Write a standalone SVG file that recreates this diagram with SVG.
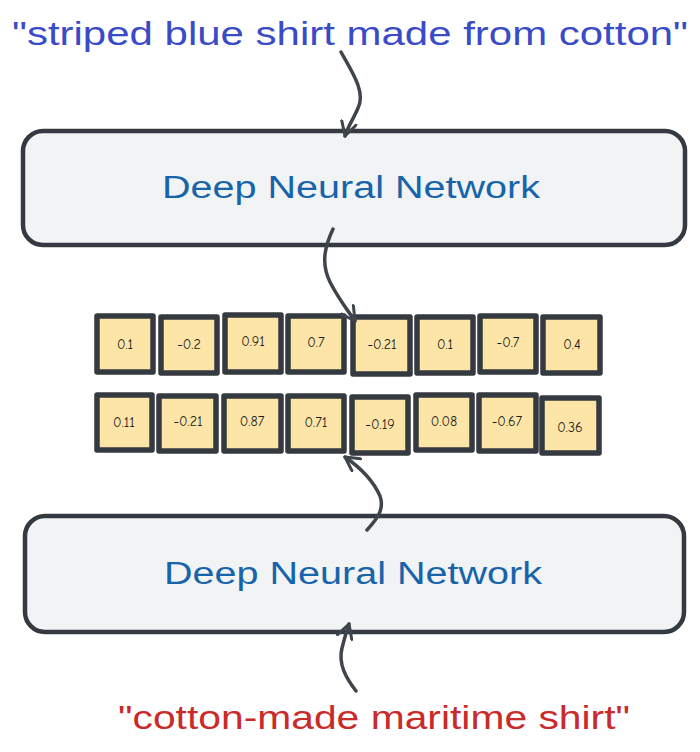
<svg xmlns="http://www.w3.org/2000/svg" width="700" height="752" viewBox="0 0 700 752">
<defs>
<style>
.box{fill:#f1f3f5;stroke:#343a40;stroke-width:4.5}
.cell{fill:#fde5a8;stroke:#343a40;stroke-width:5.5;stroke-linejoin:round}
.num{font-family:"Comic Neue","Liberation Sans",sans-serif;font-size:14px;fill:#1e1e1e;text-anchor:middle}
.dnn{font-family:"Liberation Sans",sans-serif;font-size:31px;fill:#1864ab;text-anchor:middle}
.quote{font-family:"Liberation Sans",sans-serif;font-size:33px}
.conn{fill:none;stroke:#3f454b;stroke-width:3.5;stroke-linecap:round;stroke-linejoin:round}
</style>
<marker id="ah" viewBox="0 0 14 14" refX="12" refY="7" markerWidth="5" markerHeight="5" orient="auto" markerUnits="strokeWidth">
<path d="M1,1 L12,7 L1,13" fill="none" stroke="#3f454b" stroke-width="2.4" stroke-linecap="round" stroke-linejoin="round"/>
</marker>
</defs>
<rect width="700" height="752" fill="#ffffff"/>

<g id="query-top">
<text class="quote" x="12" y="45" fill="#3a4bc8" textLength="676" lengthAdjust="spacingAndGlyphs">"striped blue shirt made from cotton"</text>
</g>

<g id="dnn-top">
<rect class="box" x="23" y="131" width="662" height="114" rx="20"/>
<text class="dnn" x="351" y="198" textLength="378" lengthAdjust="spacingAndGlyphs">Deep Neural Network</text>
</g>

<g id="vector-1">
<rect class="cell" x="97" y="316" width="56" height="56"/>
<text class="num" x="125" y="349">0.1</text>
<rect class="cell" x="161" y="317" width="56" height="56"/>
<text class="num" x="189" y="349">-0.2</text>
<rect class="cell" x="225" y="315" width="56" height="57"/>
<text class="num" x="253" y="346">0.91</text>
<rect class="cell" x="288" y="316" width="56" height="56"/>
<text class="num" x="316" y="347">0.7</text>
<rect class="cell" x="353" y="317" width="57" height="57"/>
<text class="num" x="382" y="349">-0.21</text>
<rect class="cell" x="417" y="317" width="56" height="56"/>
<text class="num" x="445" y="349">0.1</text>
<rect class="cell" x="480" y="316" width="56" height="56"/>
<text class="num" x="508" y="347">-0.7</text>
<rect class="cell" x="543" y="317" width="57" height="56"/>
<text class="num" x="572" y="349">0.4</text>
</g>

<g id="vector-2">
<rect class="cell" x="97" y="395" width="55" height="55"/>
<text class="num" x="124" y="427">0.11</text>
<rect class="cell" x="159" y="396" width="57" height="55"/>
<text class="num" x="188" y="426">-0.21</text>
<rect class="cell" x="224" y="396" width="57" height="55"/>
<text class="num" x="252" y="426">0.87</text>
<rect class="cell" x="288" y="396" width="56" height="55"/>
<text class="num" x="316" y="427">0.71</text>
<rect class="cell" x="352" y="397" width="56" height="56"/>
<text class="num" x="380" y="429">-0.19</text>
<rect class="cell" x="416" y="395" width="56" height="55"/>
<text class="num" x="444" y="426">0.08</text>
<rect class="cell" x="479" y="395" width="57" height="56"/>
<text class="num" x="507" y="426">-0.67</text>
<rect class="cell" x="542" y="398" width="57" height="55"/>
<text class="num" x="570" y="432">0.36</text>
</g>

<g id="dnn-bottom">
<rect class="box" x="25" y="516" width="659" height="116" rx="20"/>
<text class="dnn" x="353" y="584" textLength="378" lengthAdjust="spacingAndGlyphs">Deep Neural Network</text>
</g>

<g id="query-bottom">
<text class="quote" x="118" y="729" fill="#c92a2a" textLength="512" lengthAdjust="spacingAndGlyphs">"cotton-made maritime shirt"</text>
</g>

<g id="connectors">
<path class="conn" d="M341,52 C352,72 366,92 358,108 C354,118 348,126 345,136" marker-end="url(#ah)"/>
<path class="conn" d="M333,229 C326,244 320,262 330,282 C338,298 346,308 355,321" marker-end="url(#ah)"/>
<path class="conn" d="M367,530 C376,520 385,510 380,496 C372,478 358,466 345,457" marker-end="url(#ah)"/>
<path class="conn" d="M356,691 C346,678 338,664 342,648 C344,640 346,633 349,624" marker-end="url(#ah)"/>
</g>
</svg>
